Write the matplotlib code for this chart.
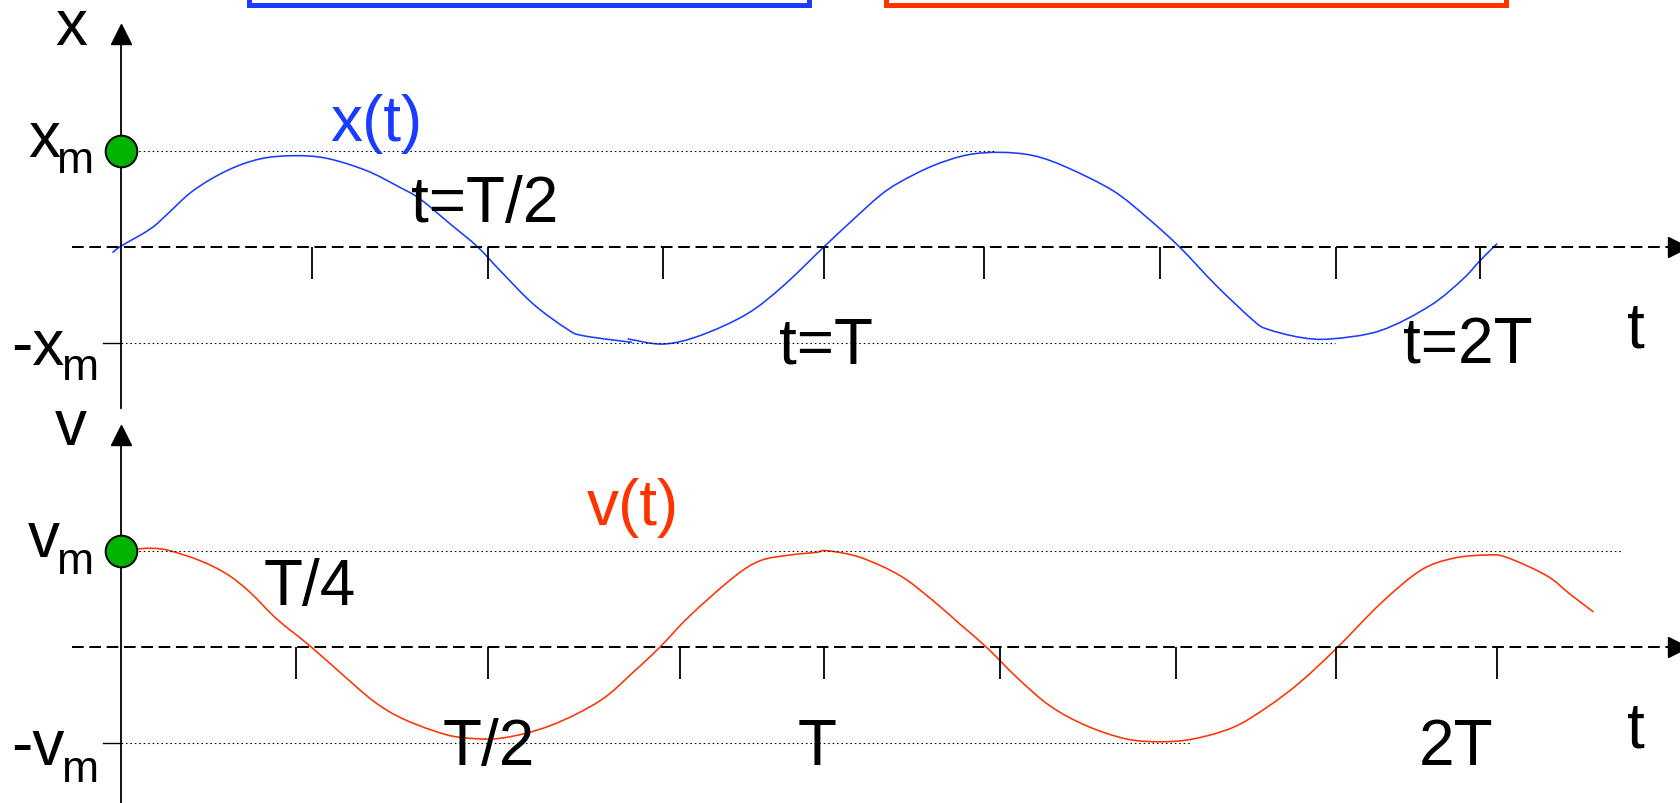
import matplotlib
matplotlib.use("Agg")
import matplotlib.pyplot as plt
from matplotlib.patches import Rectangle, PathPatch
from matplotlib.path import Path

plt.rcParams['font.family'] = ['Liberation Sans', 'DejaVu Sans']

# ---------------- data (t in units of T, y in units of amplitude) ----------------
blue_t1 = [-0.011, 0.0, 0.042, 0.065, 0.103, 0.151, 0.198, 0.246, 0.293, 0.350, 0.397,
           0.426, 0.469, 0.507, 0.540, 0.587, 0.635, 0.658, 0.727]
blue_y1 = [-0.058, 0.004, 0.184, 0.330, 0.583, 0.792, 0.914, 0.948, 0.921, 0.792, 0.619,
           0.497, 0.236, 0.004, -0.250, -0.597, -0.857, -0.927, -0.996]
blue_t2 = [0.722, 0.772, 0.824, 0.891, 0.943, 1.0, 1.038, 1.080, 1.109, 1.156, 1.204,
           1.251, 1.299, 1.346, 1.412, 1.460, 1.507, 1.559, 1.612, 1.631, 1.678, 1.721,
           1.792, 1.863, 1.910, 1.934, 1.958]
blue_y2 = [-0.961, -1.014, -0.927, -0.701, -0.406, -0.006, 0.254, 0.531, 0.674, 0.844, 0.955,
           0.983, 0.948, 0.827, 0.583, 0.306, -0.006, -0.406, -0.771, -0.857, -0.944, -0.961,
           -0.875, -0.615, -0.336, -0.146, 0.028]

red_t = [0.0, 0.023, 0.046, 0.070, 0.113, 0.151, 0.184, 0.222, 0.269, 0.312, 0.359, 0.397,
         0.445, 0.483, 0.540, 0.611, 0.682, 0.729, 0.767, 0.810, 0.872, 0.910, 0.952, 0.990,
         1.005, 1.052, 1.109, 1.156, 1.194, 1.232, 1.275, 1.322, 1.374, 1.431, 1.479, 1.526,
         1.583, 1.631, 1.678, 1.730, 1.792, 1.849, 1.896, 1.944, 1.972, 2.029, 2.062, 2.095]
red_y = [1.0, 1.018, 1.025, 1.0, 0.896, 0.757, 0.567, 0.289, 0.010, -0.267, -0.563, -0.735,
         -0.875, -0.944, -0.954, -0.823, -0.563, -0.267, -0.006, 0.323, 0.723, 0.896, 0.955, 0.983,
         1.0, 0.931, 0.740, 0.479, 0.236, -0.006, -0.319, -0.615, -0.823, -0.961, -0.990, -0.961,
         -0.840, -0.631, -0.371, -0.017, 0.445, 0.792, 0.921, 0.955, 0.931, 0.740, 0.549, 0.365]

ticks_top = [0.272, 0.522, 0.772, 1.0, 1.228, 1.479, 1.729, 1.934]
ticks_bot = [0.249, 0.522, 0.796, 1.0, 1.251, 1.502, 1.729, 1.958]

# extents of dotted reference lines (max, min) per panel
ref_top_ends = [1.246, 1.728]
ref_bot_ends = [2.138, 1.525]

BLUE = '#1a3cff'
RED = '#ff3300'
GREEN = '#00b300'

W, H = 1680, 804
fig = plt.figure(figsize=(W / 100, H / 100), dpi=100)

X0, PX_T, PX_U = 120.7, 702.8, 96.0
xlim = (-X0 / PX_T, (W - X0) / PX_T)

def panel(bottom_frac, zero_px_from_top, top_px):
    ax = fig.add_axes([0, bottom_frac, 1, 0.5])
    ax.set_xlim(*xlim)
    ax.set_ylim((zero_px_from_top - (top_px + 402)) / PX_U, (zero_px_from_top - top_px) / PX_U)
    ax.axis('off')
    return ax

def smooth_curve(ax, xs, ys, color, lw=1.15):
    """Draw a freeform curve through the given points as a Catmull-Rom (cubic Bezier) path."""
    n = len(xs)
    verts = [(xs[0], ys[0])]
    codes = [Path.MOVETO]
    for i in range(n - 1):
        p0 = (xs[max(i - 1, 0)], ys[max(i - 1, 0)])
        p1 = (xs[i], ys[i])
        p2 = (xs[i + 1], ys[i + 1])
        p3 = (xs[min(i + 2, n - 1)], ys[min(i + 2, n - 1)])
        c1 = (p1[0] + (p2[0] - p0[0]) / 6, p1[1] + (p2[1] - p0[1]) / 6)
        c2 = (p2[0] - (p3[0] - p1[0]) / 6, p2[1] - (p3[1] - p1[1]) / 6)
        verts += [c1, c2, p2]
        codes += [Path.CURVE4] * 3
    ax.add_patch(PathPatch(Path(verts, codes), facecolor='none', edgecolor=color, lw=lw,
                           capstyle='round', joinstyle='round', clip_on=False))

ax1 = panel(0.5, 247.7, 0)
ax2 = panel(0.0, 647.7, 402)

LW_AX = 1.3
dash = (0, (5.8, 2.8))
dot = (0, (1.4, 2.6))

for ax, ticks, ends, ytop, ybot, arrow_y in [
        (ax1, ticks_top, ref_top_ends, 2.16, -1.68, 2.216),
        (ax2, ticks_bot, ref_bot_ends, 2.15, -1.70, 2.205)]:
    # reference dotted lines
    ax.plot([0, ends[0]], [1, 1], color='black', lw=0.8, linestyle=dot, clip_on=False)
    ax.plot([0, ends[1]], [-1, -1], color='black', lw=0.8, linestyle=dot, clip_on=False)
    ax.plot([-0.025, 0], [-1, -1], color='black', lw=1.0, clip_on=False)
    # horizontal dashed axis
    ax.plot([-0.069, 2.205], [0, 0], color='black', lw=1.45, linestyle=dash, clip_on=False)
    ax.plot([2.216], [0], marker='>', ms=14.5, color='black', clip_on=False)
    # vertical axis
    ax.plot([0, 0], [ybot, ytop], color='black', lw=LW_AX, clip_on=False)
    ax.plot([0], [arrow_y], marker='^', ms=14.5, color='black', clip_on=False)
    # ticks
    ax.vlines(ticks, -0.336, 0, color='black', lw=LW_AX)

smooth_curve(ax1, blue_t1, blue_y1, BLUE)
smooth_curve(ax1, blue_t2, blue_y2, BLUE)
smooth_curve(ax2, red_t, red_y, RED)

for ax in (ax1, ax2):
    ax.scatter([0], [1], s=520, color=GREEN, edgecolor='black', linewidth=1.4, zorder=10,
               clip_on=False)

# ---------------- overlay in pixel coordinates for texts & boxes ----------------
ov = fig.add_axes([0, 0, 1, 1])
ov.set_xlim(0, W)
ov.set_ylim(H, 0)
ov.axis('off')
ov.patch.set_alpha(0)

FS = 46
FS_SUB = 32

def txt(x, y, s, fs=FS, color='black', ha='center'):
    ov.text(x, y, s, fontsize=fs, color=color, ha=ha, va='baseline')

# top panel labels
txt(71, 45, 'x')
txt(44, 157, 'x')
txt(76, 173, 'm', FS_SUB)
txt(64, 365, '-x', ha='right')
txt(80.5, 380, 'm', FS_SUB)
txt(376, 141, 'x(t)', color=BLUE)
txt(484.5, 222, 't=T/2')
txt(826, 364, 't=T')
txt(1468, 364, 't=2T')
txt(1636, 348, 't')

# bottom panel labels
txt(71, 445, 'v')
txt(44, 557, 'v')
txt(76, 574, 'm', FS_SUB)
txt(64, 765, '-v', ha='right')
txt(80.5, 782, 'm', FS_SUB)
txt(633, 525, 'v(t)', color=RED)
txt(310, 605, 'T/4')
txt(489, 765, 'T/2')
txt(817.5, 765, 'T')
txt(1456, 765, '2T')
txt(1636, 748, 't')

# boxes at the top (cut by the figure edge)
ov.add_patch(Rectangle((248.5, -60), 560, 65.5, fill=False, edgecolor=BLUE, lw=3.6))
ov.add_patch(Rectangle((885.5, -60), 620, 65.5, fill=False, edgecolor=RED, lw=3.6))

fig.savefig('out.png', dpi=100)
